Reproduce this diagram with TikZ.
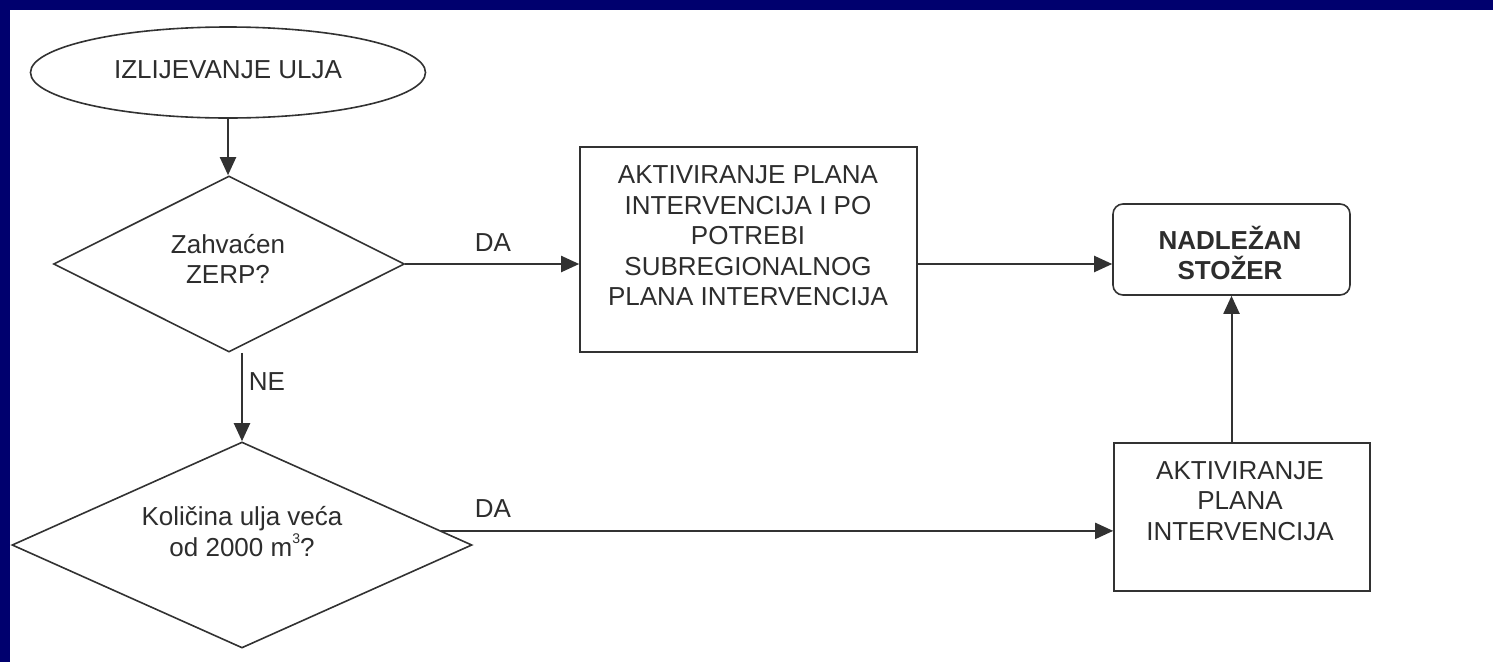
\documentclass[tikz,border=0pt]{standalone}
\usepackage{fontspec}
\setmainfont{Liberation Sans}
\usetikzlibrary{shapes.geometric,arrows.meta,calc}
\definecolor{navy}{RGB}{0,0,110}
\definecolor{linec}{RGB}{50,50,50}
\definecolor{txtc}{RGB}{45,45,45}
\begin{document}
\begin{tikzpicture}[x=1pt,y=-1pt,
  shp/.style={draw=linec, line width=1.6pt, inner sep=0pt, fill=white},
  txt/.style={text=txtc, align=center, font=\fontsize{26}{30.5}\selectfont, inner sep=0pt},
  arr/.style={draw=linec, line width=2pt, -{Triangle[length=18pt,width=16pt]}},
  ln/.style={draw=linec, line width=2pt}]
\useasboundingbox (0,0) rectangle (1493,662);
\fill[navy] (0,0) rectangle (1493,662);
\fill[white] (10,10) rectangle (1493,662);

\node[shp, ellipse, minimum width=395pt, minimum height=91pt] (start) at (228,72.5) {};
\node[txt] (tstart) at (228,70) {IZLIJEVANJE ULJA};

\node[shp, diamond, minimum width=351pt, minimum height=176pt] (d1) at (229,264) {};
\node[txt] (td1) at (228,259) {Zahvaćen\\ZERP?};

\node[shp, diamond, minimum width=460pt, minimum height=206pt] (d2) at (242,545) {};
\node[txt] (td2) at (242,531.5) {Količina ulja veća\\od 2000 m\raisebox{0.5em}{\fontsize{14}{14}\selectfont 3}?};

\node[shp, rectangle, minimum width=337pt, minimum height=205pt] (b1) at (748.5,249.5) {};
\node[txt] (tb1) at (748,236) {AKTIVIRANJE PLANA\\INTERVENCIJA I PO\\POTREBI\\SUBREGIONALNOG\\PLANA INTERVENCIJA};

\node[shp, rectangle, rounded corners=10pt, minimum width=237pt, minimum height=91pt] (nad) at (1231.5,249.5) {};
\node[txt, font=\fontsize{26}{30}\selectfont\bfseries] (tnad) at (1230,253) {NADLEŽAN\\STOŽER};

\node[shp, rectangle, minimum width=256pt, minimum height=148pt] (b2) at (1242,517) {};
\node[txt] (tb2) at (1240,501) {AKTIVIRANJE\\PLANA\\INTERVENCIJA};

\draw[arr] (start.south) -- (start.south |- d1.north);
\draw[arr] (d1.east) -- (d1.east -| b1.west);
\node[txt] (da1) at (493,243) {DA};
\draw[arr] (d1.south -| d2.north) -- (d2.north);
\node[txt] (ne) at (267,382) {NE};
\coordinate (p2) at ($(d2.north)!0.864!(d2.east)$);
\draw[arr] (p2) -- (p2 -| b2.west);
\node[txt] (da2) at (493,509) {DA};
\draw[arr] (b1.east |- d1.east) -- (nad.west |- d1.east);
\draw[arr] (nad.south |- b2.north) -- (nad.south);
\end{tikzpicture}
\end{document}
